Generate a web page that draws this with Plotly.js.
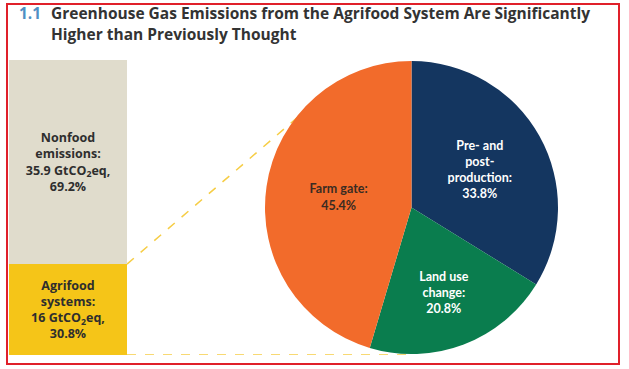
<!DOCTYPE html>
<html>
<head>
<meta charset="utf-8">
<script src="https://cdn.plot.ly/plotly-3.0.1.min.js"></script>
<style>
  html, body { margin: 0; padding: 0; background: #ffffff; }
  #chart { width: 629px; height: 369px; }
</style>
</head>
<body>
<div id="chart"></div>
<script>
// Breakdown of agrifood-system emissions (share of total, %)
const sliceNames = ['Pre- and<br>post-<br>production:', 'Land use<br>change:', 'Farm gate:'];
const sliceShares = [33.8, 20.8, 45.4];
const sliceColors = ['#143660', '#0a7d4e', '#f26b2b'];
const sliceTextColors = ['#ffffff', '#ffffff', '#3a2b22'];

// Total emissions split: agrifood vs nonfood
const splitNames = ['Agrifood<br>systems:', 'Nonfood<br>emissions:'];
const splitGt = [16, 35.9];
const splitShares = [30.8, 69.2];
const splitColors = ['#f5c518', '#e0dccc'];

const W = 629, H = 369;
const px = v => v / W;
const py = v => 1 - v / H;
const LATO = 'Lato, "Open Sans", sans-serif';
const OPEN = '"Open Sans", Lato, sans-serif';

// stacked column on the left
const barTraces = splitShares.map((s, i) => ({
  type: 'bar',
  x: ['total'],
  y: [s],
  xaxis: 'x',
  yaxis: 'y',
  marker: { color: splitColors[i], line: { width: 0 } },
  text: [splitNames[i] + '<br>' + splitGt[i] + ' GtCO<sub>2</sub>eq,<br>' + s.toFixed(1) + '%'],
  textposition: 'inside',
  insidetextanchor: 'middle',
  constraintext: 'none',
  textfont: { family: OPEN, size: 12.5, color: '#2e2e2e', weight: 'bold' },
  hoverinfo: 'skip'
}));

const pieTrace = {
  type: 'pie',
  values: sliceShares,
  labels: sliceNames,
  text: sliceShares.map((v, i) => sliceNames[i] + '<br>' + v.toFixed(1) + '%'),
  textinfo: 'text',
  textposition: 'inside',
  insidetextorientation: 'horizontal',
  sort: false,
  direction: 'clockwise',
  rotation: 0,
  marker: { colors: sliceColors, line: { width: 0 } },
  textfont: { family: LATO, size: 12.5, color: sliceTextColors, weight: 'bold' },
  domain: { x: [px(264), px(559)], y: [py(354), py(61)] },
  hoverinfo: 'skip'
};

const yTop = 100;
const dash = { color: '#f6cd45', width: 1.5, dash: 'dash' };
const titleFont = { family: OPEN, size: 15.5, color: '#333333', weight: 'bold' };

const layout = {
  width: W,
  height: H,
  margin: { l: 0, r: 0, t: 0, b: 0 },
  paper_bgcolor: '#ffffff',
  plot_bgcolor: 'rgba(0,0,0,0)',
  showlegend: false,
  hovermode: false,
  barmode: 'stack',
  bargap: 0,
  xaxis: { domain: [px(9), px(127)], range: [-0.5, 0.5], visible: false, fixedrange: true },
  yaxis: { domain: [py(355), py(60)], range: [0, yTop], visible: false, fixedrange: true },
  shapes: [
    // connector lines from the agrifood block to the pie
    { type: 'line', layer: 'below', xref: 'paper', yref: 'y',
      x0: px(127), y0: splitShares[0], x1: px(320), y1: yTop * (355 - 98) / 295, line: dash },
    { type: 'line', layer: 'below', xref: 'paper', yref: 'y',
      x0: px(127), y0: 0, x1: px(412), y1: 0, line: dash },
    // frame
    { type: 'rect', xref: 'paper', yref: 'paper',
      x0: px(7), x1: px(619), y0: py(364), y1: py(4),
      line: { color: '#e0202a', width: 2 }, fillcolor: 'rgba(0,0,0,0)' }
  ],
  annotations: [
    { xref: 'paper', yref: 'paper', x: px(17), y: py(13), xanchor: 'left', yanchor: 'middle',
      text: '1.1', showarrow: false,
      font: { family: OPEN, size: 15.5, color: '#4f8fc4', weight: 'bold' } },
    { xref: 'paper', yref: 'paper', x: px(49), y: py(13), xanchor: 'left', yanchor: 'middle',
      text: 'Greenhouse Gas Emissions from the Agrifood System Are Significantly', showarrow: false,
      font: titleFont },
    { xref: 'paper', yref: 'paper', x: px(49), y: py(34), xanchor: 'left', yanchor: 'middle',
      text: 'Higher than Previously Thought', showarrow: false,
      font: titleFont }
  ]
};

Plotly.newPlot('chart', barTraces.concat([pieTrace]), layout, { displayModeBar: false, staticPlot: true });
</script>
</body>
</html>
